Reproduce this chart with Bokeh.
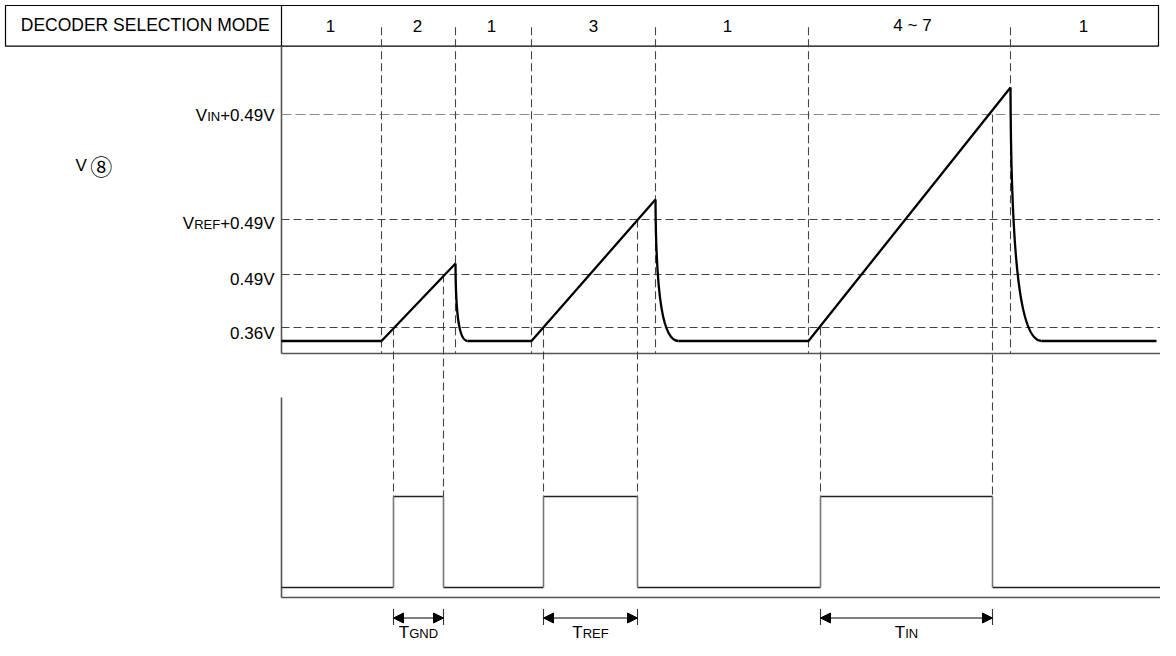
from bokeh.plotting import figure
from bokeh.models import Range1d, Arrow, NormalHead, ColumnDataSource
from bokeh.core.properties import value
from bokeh.embed import file_html
from bokeh.resources import INLINE

FONT = "Liberation Sans"
BIG, SMALL = 17, 13

# ---------------- data (time = horizontal, level = vertical, diagram units) ----------------
header_title = "DECODER SELECTION MODE"
mode_labels = ["1", "2", "1", "3", "1", "4 ~ 7", "1"]
mode_label_t = [330, 417, 491, 593, 727, 912, 1083]
mode_switch_t = [381, 455, 531, 655, 808, 1010]          # mode boundaries

level_label_parts = [
    [("V", BIG), ("IN", SMALL), ("+0.49V", BIG)],
    [("V", BIG), ("REF", SMALL), ("+0.49V", BIG)],
    [("0.49V", BIG)],
    [("0.36V", BIG)],
]
level_y = [114, 219, 274, 327]                           # VIN+0.49, VREF+0.49, 0.49, 0.36
level_label_mid = [115, 222.5, 279, 332.5]
rest_y = 340.5                                           # resting level of V8

ramp_start_t = [381, 531, 808]
ramp_peak_t = [455, 655, 1010]
ramp_peak_y = [263, 199, 87]
settle_t = [467, 678, 1041]
trace_end_t = 1156

# integration windows (crossing of 0.36V and end level)
win_start_t = [393, 543, 820]
win_end_t = [443, 637, 992]
win_start_level = [327, 327, 327]
win_end_level = [274, 219, 114]
win_label_parts = [[("T", BIG), ("GND", SMALL)],
                   [("T", BIG), ("REF", SMALL)],
                   [("T", BIG), ("IN", SMALL)]]

low_y, high_y = 587, 496                                 # lower digital signal levels

# ---------------- layout constants ----------------
X0 = 281
HDR_LEFT, HDR_TOP, HDR_BOT, HDR_RIGHT = 5, 5, 45.7, 1158
AX1_Y, AX2_Y = 353, 597
ARROW_Y = 617.5
LABEL_MID = 631.5

W = {"V": .667, "I": .278, "N": .722, "R": .722, "E": .667, "F": .611, "T": .611,
     "G": .778, "D": .722, "+": .584, ".": .278}


def tw(s, size):
    return sum(W.get(c, .556) for c in s) * size


p = figure(width=1160, height=640, x_range=Range1d(0, 1160), y_range=Range1d(640, 0),
           output_backend="svg", toolbar_location=None, x_axis_type=None, y_axis_type=None,
           min_border=0, min_border_left=0, min_border_right=0, min_border_top=0,
           min_border_bottom=0)
p.grid.visible = False
p.outline_line_color = None
p.background_fill_color = "white"
p.border_fill_color = "white"


def txt(x, y, s, size, align="left", font=FONT):
    p.text(x=[x], y=[y], text=[s], text_font=value(font), text_font_size=f"{size}px",
           text_align=align, text_baseline="middle", text_color="black")


def pieces(x_left, y_mid, parts):
    x = x_left
    for s, size in parts:
        txt(x, y_mid + (BIG - size) * 0.358, s, size)
        x += tw(s, size)


# header box
p.quad(left=[HDR_LEFT], right=[HDR_RIGHT], top=[HDR_TOP], bottom=[HDR_BOT],
       fill_color=None, line_color="black", line_width=1.2)
p.segment(x0=[X0], y0=[HDR_TOP], x1=[X0], y1=[HDR_BOT], line_color="black", line_width=1.2)
txt(144.7, 24, header_title, 17.5, align="center")
for t, s in zip(mode_label_t, mode_labels):
    txt(t, 25, s, BIG, align="center")

# axes
p.segment(x0=[X0, X0, X0, X0], y0=[HDR_BOT, AX1_Y, 397, AX2_Y],
          x1=[X0, 1162, X0, 1176], y1=[AX1_Y, AX1_Y, AX2_Y, AX2_Y],
          line_color="#555", line_width=1.6)

# horizontal level lines
p.segment(x0=[X0], y0=[level_y[0]], x1=[1162], y1=[level_y[0]],
          line_color="#8a8a8a", line_width=1.1, line_dash="10 4")
p.segment(x0=[X0] * 3, y0=level_y[1:], x1=[1162] * 3, y1=level_y[1:],
          line_color="#444", line_width=1.1, line_dash="8 4")

# vertical dashed mode boundaries
p.segment(x0=mode_switch_t, y0=[26.7] * len(mode_switch_t), x1=mode_switch_t,
          y1=[AX1_Y] * len(mode_switch_t), line_color="#444", line_width=1.1, line_dash="8 4")
# vertical dashed window markers
wt = win_start_t + win_end_t
wl = win_start_level + win_end_level
p.segment(x0=wt, y0=wl, x1=wt, y1=[high_y] * len(wt),
          line_color="#444", line_width=1.1, line_dash="8 4")

# level labels
for parts, ym in zip(level_label_parts, level_label_mid):
    total = sum(tw(s, sz) for s, sz in parts)
    pieces(274 - total, ym, parts)

txt(75, 164.7, "V", BIG)
txt(100.7, 164.7, "⑧", 22, align="center", font="Noto Sans CJK JP")

# V8 trace: flat segments and ramps
xs = [X0]
ys = [rest_y]
for i in range(3):
    xs.append(ramp_start_t[i]); ys.append(rest_y)
    xs.append(ramp_peak_t[i]); ys.append(ramp_peak_y[i])
    p.line(xs, ys, line_color="black", line_width=2.3)
    xs = [settle_t[i]]
    ys = [rest_y]
xs.append(trace_end_t); ys.append(rest_y)
p.line(xs, ys, line_color="black", line_width=2.3)

# discharge curves
dt = [s - k for s, k in zip(settle_t, ramp_peak_t)]
dy = [rest_y - k for k in ramp_peak_y]
p.bezier(x0=ramp_peak_t, y0=ramp_peak_y, x1=settle_t, y1=[rest_y] * 3,
         cx0=[k + 0.02 * d for k, d in zip(ramp_peak_t, dt)],
         cy0=[k + 0.72 * d for k, d in zip(ramp_peak_y, dy)],
         cx1=[k + 0.35 * d for k, d in zip(ramp_peak_t, dt)],
         cy1=[rest_y] * 3, line_color="black", line_width=2.3)

# lower digital signal
hx0 = [X0] + win_end_t
hx1 = win_start_t + [1176]
p.segment(x0=hx0, y0=[low_y] * 4, x1=hx1, y1=[low_y] * 4, line_color="#222", line_width=1.3)
p.segment(x0=win_start_t, y0=[high_y] * 3, x1=win_end_t, y1=[high_y] * 3,
          line_color="#222", line_width=1.3)
p.segment(x0=wt, y0=[low_y] * 6, x1=wt, y1=[high_y] * 6, line_color="#777", line_width=1.6)

# window arrows
p.segment(x0=wt, y0=[ARROW_Y - 9] * 6, x1=wt, y1=[ARROW_Y + 7] * 6,
          line_color="#333", line_width=1.1)
asrc = ColumnDataSource(dict(xs=win_start_t, xe=win_end_t, y=[ARROW_Y] * 3))
p.add_layout(Arrow(x_start="xs", y_start="y", x_end="xe", y_end="y", source=asrc,
                   line_color="black", line_width=1.1,
                   start=NormalHead(size=10, fill_color="black", line_color="black"),
                   end=NormalHead(size=10, fill_color="black", line_color="black")))
for a, b, parts in zip(win_start_t, win_end_t, win_label_parts):
    total = sum(tw(s, sz) for s, sz in parts)
    pieces((a + b) / 2 - total / 2, LABEL_MID, parts)

open("out.html", "w").write(file_html(p, INLINE))
